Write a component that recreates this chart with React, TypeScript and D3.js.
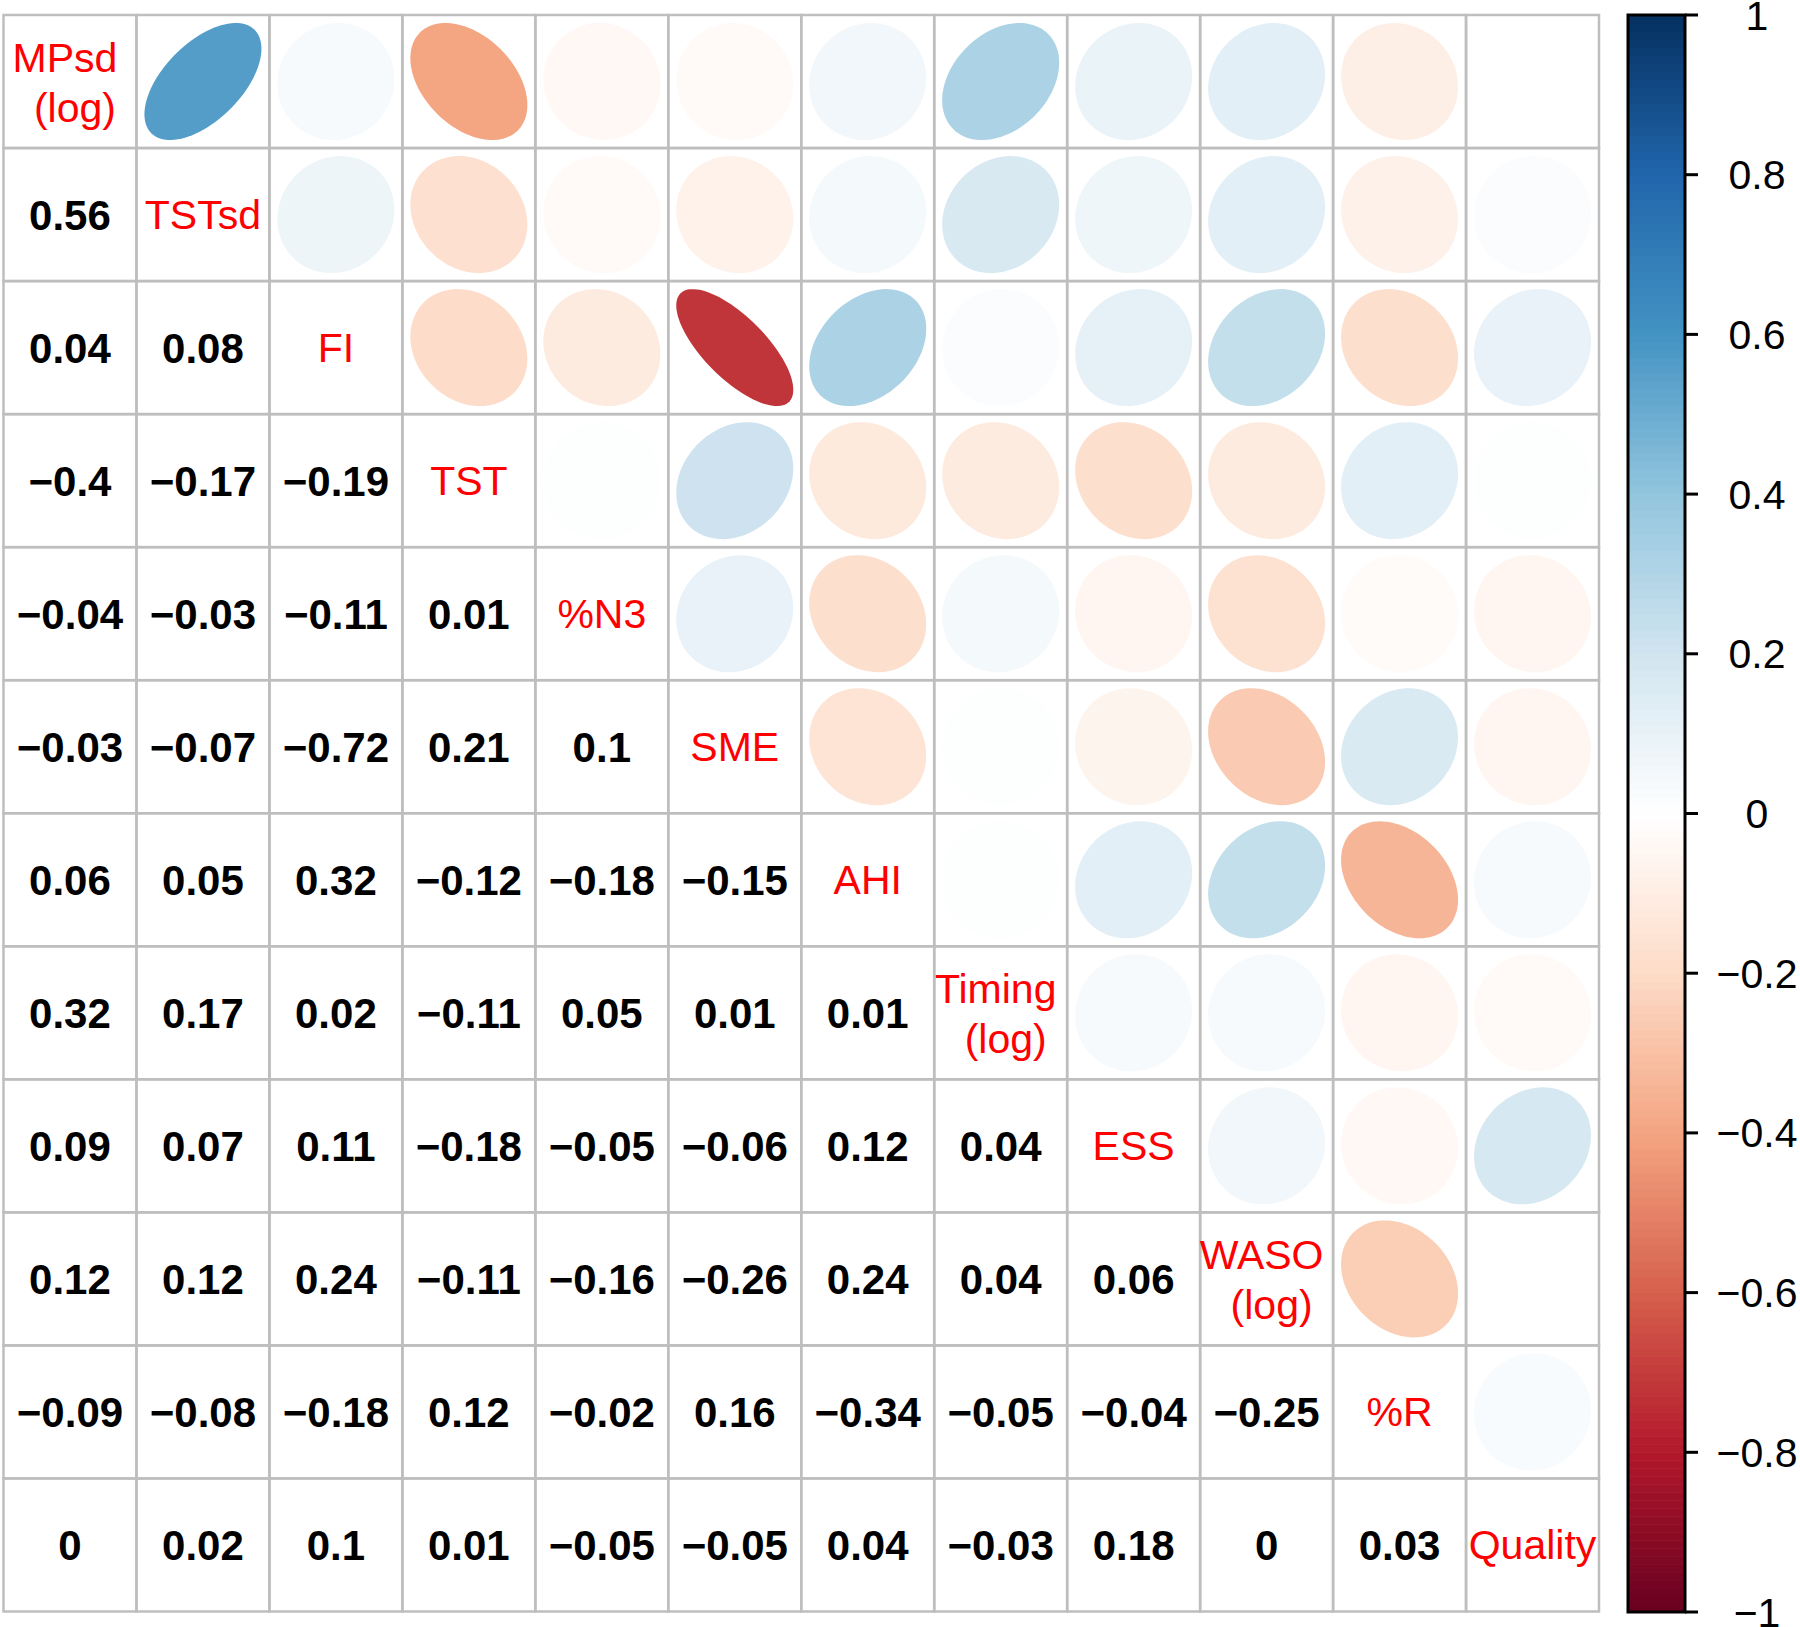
import React, { useEffect, useRef } from "react"
import * as d3 from "d3"

const WIDTH = 1800
const HEIGHT = 1627

// diagonal labels (second line of the log ones is written with a leading space)
const varNames = ["MPsd", "TSTsd", "FI", "TST", "%N3", "SME", "AHI", "Timing", "ESS", "WASO", "%R", "Quality"]
const varSubLabels = ["(log)", "", "", "", "", "", "", "(log)", "", "(log)", "", ""]

// lower triangle of the correlation matrix, row by row
const corrLower: number[][] = [
  [],
  [0.56],
  [0.04, 0.08],
  [-0.4, -0.17, -0.19],
  [-0.04, -0.03, -0.11, 0.01],
  [-0.03, -0.07, -0.72, 0.21, 0.1],
  [0.06, 0.05, 0.32, -0.12, -0.18, -0.15],
  [0.32, 0.17, 0.02, -0.11, 0.05, 0.01, 0.01],
  [0.09, 0.07, 0.11, -0.18, -0.05, -0.06, 0.12, 0.04],
  [0.12, 0.12, 0.24, -0.11, -0.16, -0.26, 0.24, 0.04, 0.06],
  [-0.09, -0.08, -0.18, 0.12, -0.02, 0.16, -0.34, -0.05, -0.04, -0.25],
  [0, 0.02, 0.1, 0.01, -0.05, -0.05, 0.04, -0.03, 0.18, 0, 0.03],
]

const colorbarTicks = [1, 0.8, 0.6, 0.4, 0.2, 0, -0.2, -0.4, -0.6, -0.8, -1]

const rdbu = ["#67001F", "#B2182B", "#D6604D", "#F4A582", "#FDDBC7", "#FFFFFF", "#D1E5F0", "#92C5DE", "#4393C3", "#2166AC", "#053061"]

const FONT = "'Liberation Sans', Arial, Helvetica, sans-serif"

const fmt = (v: number) => String(v).replace("-", "\u2212")

export default function App() {
  const svgRef = useRef<SVGSVGElement | null>(null)

  useEffect(() => {
    if (!svgRef.current) return
    const svg = d3.select(svgRef.current)
    svg.selectAll("*").remove()

    const x = d3.scaleBand<string>().domain(varNames).range([3.5, 1599]).padding(0)
    const y = d3.scaleBand<string>().domain(varNames).range([15, 1611.5]).padding(0)
    const cell = x.bandwidth()

    const color = d3
      .scaleLinear<string>()
      .domain(d3.range(rdbu.length).map((i) => -1 + (2 * i) / (rdbu.length - 1)))
      .range(rdbu)
      .interpolate(d3.interpolateRgb)

    const corr = (i: number, j: number) => (i > j ? corrLower[i][j] : corrLower[j][i])

    svg.append("rect").attr("width", WIDTH).attr("height", HEIGHT).attr("fill", "#fff")

    const cells = svg.append("g")
    const marks = svg.append("g")

    // ellipse outline as corrplot draws it
    const ellLine = d3.line<[number, number]>().curve(d3.curveLinearClosed)
    const ellipse = (rho: number, cx: number, cy: number) => {
      const a = Math.acos(rho)
      const pts: [number, number][] = d3.range(99).map((n) => {
        const k = (n / 98) * 2 * Math.PI
        const ex = (0.88 * Math.cos(k + a / 2)) / 2
        const ey = (0.88 * Math.cos(k - a / 2)) / 2
        return [cx + ex * cell, cy - ey * cell]
      })
      return ellLine(pts)
    }

    varNames.forEach((rowName, i) => {
      varNames.forEach((colName, j) => {
        const x0 = x(colName)!
        const y0 = y(rowName)!
        const cx = x0 + cell / 2
        const cy = y0 + y.bandwidth() / 2

        cells
          .append("rect")
          .attr("x", x0)
          .attr("y", y0)
          .attr("width", cell)
          .attr("height", y.bandwidth())
          .attr("fill", "none")
          .attr("stroke", "#bebebe")
          .attr("stroke-width", 2.5)

        if (j > i) {
          const v = corr(i, j)
          marks.append("path").attr("d", ellipse(v, cx, cy)).attr("fill", color(v)).attr("stroke", "none")
        } else if (j < i) {
          marks
            .append("text")
            .attr("x", cx)
            .attr("y", cy + 15)
            .attr("text-anchor", "middle")
            .style("font-family", FONT)
            .style("font-weight", "bold")
            .style("font-size", "42px")
            .attr("fill", "#000")
            .text(fmt(corr(i, j)))
        } else {
          const sub = varSubLabels[i]
          const t = marks
            .append("text")
            .attr("text-anchor", "middle")
            .style("font-family", FONT)
            .style("font-size", "41px")
            .attr("fill", "#ff0000")
          if (sub) {
            t.append("tspan").attr("x", cx - 5).attr("y", cy - 9.5).text(rowName)
            t.append("tspan").attr("x", cx + 5).attr("y", cy + 40.5).text(sub)
          } else {
            t.attr("x", cx).attr("y", cy + 14.5).text(rowName)
          }
        }
      })
    })

    // colour legend
    const barX0 = 1628
    const barX1 = 1685
    const cy = d3.scaleLinear().domain([-1, 1]).range([1612, 15])
    const legend = svg.append("g")
    const nBands = 200
    d3.range(nBands).forEach((n) => {
      const v0 = -1 + (2 * n) / nBands
      const v1 = -1 + (2 * (n + 1)) / nBands
      legend
        .append("rect")
        .attr("x", barX0)
        .attr("y", cy(v1))
        .attr("width", barX1 - barX0)
        .attr("height", cy(v0) - cy(v1) + 0.6)
        .attr("fill", color((v0 + v1) / 2))
    })
    legend
      .append("rect")
      .attr("x", barX0)
      .attr("y", cy(1))
      .attr("width", barX1 - barX0)
      .attr("height", cy(-1) - cy(1))
      .attr("fill", "none")
      .attr("stroke", "#000")
      .attr("stroke-width", 3)

    colorbarTicks.forEach((v) => {
      legend
        .append("line")
        .attr("x1", barX1)
        .attr("x2", 1698)
        .attr("y1", cy(v))
        .attr("y2", cy(v))
        .attr("stroke", "#000")
        .attr("stroke-width", 3)
      legend
        .append("text")
        .attr("x", 1757)
        .attr("y", cy(v) + 14.5)
        .attr("text-anchor", "middle")
        .style("font-family", FONT)
        .style("font-size", "41px")
        .attr("fill", "#000")
        .text(fmt(v))
    })
  }, [])

  return (
    <svg
      ref={svgRef}
      width={WIDTH}
      height={HEIGHT}
      style={{ position: "absolute", left: 0, top: 0 }}
    ></svg>
  )
}
